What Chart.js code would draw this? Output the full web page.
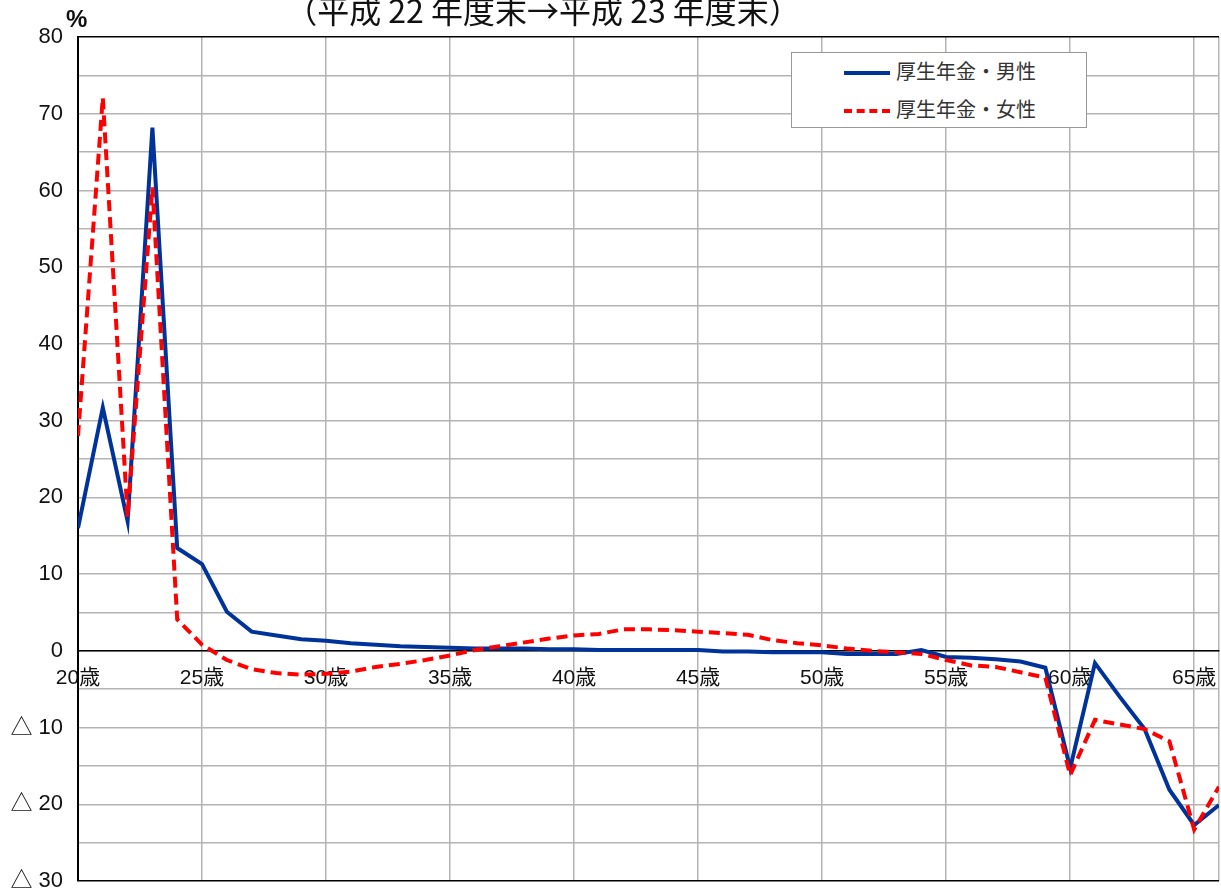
<!DOCTYPE html>
<html>
<head>
<meta charset="utf-8">
<script src="https://cdn.jsdelivr.net/npm/chart.js@4.4.1/dist/chart.umd.min.js"></script>
<style>
  body { margin: 0; background: #fff; font-family: "Liberation Sans", "Noto Sans CJK JP", sans-serif; }
  #wrap { position: relative; width: 1221px; height: 893px; overflow: hidden; }
  #title { position: absolute; left: 0; width: 1086px; top: -14px; text-align: center; font-size: 32px; color: #111;
           font-family: "Noto Sans CJK JP", sans-serif; white-space: pre; }
  #pct { position: absolute; left: 66px; top: 5px; font-size: 24px; font-weight: bold; color: #111; }
  #legend { position: absolute; left: 791px; top: 52px; width: 294px; height: 74px; background: #fff;
            border: 1px solid #999; font-family: "Noto Sans CJK JP", sans-serif; font-size: 20px; color: #333; }
  .item { position: absolute; left: 52px; height: 24px; line-height: 24px; }
  .swatch { position: absolute; left: 0; top: 10px; width: 46px; height: 0; }
  .item span { position: absolute; left: 52px; top: -2px; white-space: nowrap; }
</style>
</head>
<body>
<div id="wrap">
  <canvas id="ageChart"></canvas>
  <div id="title">（平成 22 年度末→平成 23 年度末）</div>
  <div id="pct">%</div>
  <div id="legend">
    <div class="item" style="top:8px"><div class="swatch" style="border-top:4px solid #003399"></div><span>厚生年金・男性</span></div>
    <div class="item" style="top:46px"><div class="swatch" style="border-top:4px dashed #ff0000"></div><span>厚生年金・女性</span></div>
  </div>
</div>
<script>
// 年齢
const ages = [20, 21, 22, 23, 24, 25, 26, 27, 28, 29, 30, 31, 32, 33, 34, 35, 36, 37, 38, 39, 40, 41, 42, 43,
              44, 45, 46, 47, 48, 49, 50, 51, 52, 53, 54, 55, 56, 57, 58, 59, 60, 61, 62, 63, 64, 65, 66];
// 厚生年金・男性 (%)
const male = [16.0, 31.7, 16.9, 68.2, 13.4, 11.3, 5.1, 2.5, 2.0, 1.5, 1.3, 1.0, 0.8, 0.6, 0.5, 0.4, 0.3, 0.3,
              0.3, 0.2, 0.2, 0.1, 0.1, 0.1, 0.1, 0.1, -0.1, -0.1, -0.2, -0.2, -0.2, -0.4, -0.4, -0.4, 0.1, -0.8,
              -0.9, -1.1, -1.4, -2.2, -15.3, -1.6, -6.0, -10.2, -18.1, -22.7, -20.1];
// 厚生年金・女性 (%)
const female = [28.0, 72.1, 17.5, 60.4, 4.1, 0.8, -1.2, -2.4, -2.9, -3.1, -3.0, -2.7, -2.1, -1.7, -1.2, -0.6,
                0.1, 0.6, 1.1, 1.6, 2.0, 2.2, 2.8, 2.8, 2.7, 2.5, 2.3, 2.1, 1.4, 1.0, 0.7, 0.3, 0.0, -0.2, -0.4,
                -1.2, -1.9, -2.1, -2.8, -3.5, -16.2, -9.0, -9.6, -10.2, -11.8, -23.3, -17.7];
// 目盛
const xTicks = [20, 25, 30, 35, 40, 45, 50, 55, 60, 65, 66];
const yTicks = [-30, -25, -20, -15, -10, -5, 0, 5, 10, 15, 20, 25, 30, 35, 40, 45, 50, 55, 60, 65, 70, 75, 80];

const toPoints = arr => ages.map((a, i) => ({ x: a, y: arr[i] }));
const labelFont = '"Liberation Sans Narrow", "Liberation Sans", "Noto Sans CJK JP", sans-serif';

const ctx = document.getElementById('ageChart').getContext('2d');
const ageChart = new Chart(ctx, {
  type: 'line',
  data: {
    datasets: [{
      label: '厚生年金・男性',
      data: toPoints(male),
      borderColor: '#003399',
      borderWidth: 4,
      pointRadius: 0,
      tension: 0,
      order: 1
    }, {
      label: '厚生年金・女性',
      data: toPoints(female),
      borderColor: '#ff0000',
      borderWidth: 4,
      borderDash: [11, 6],
      pointRadius: 0,
      tension: 0,
      order: 0
    }]
  },
  options: {
    responsive: true,
    maintainAspectRatio: false,
    animation: false,
    layout: { padding: { top: 37, left: 0, right: 2, bottom: 12 } },
    plugins: { legend: { display: false }, tooltip: { enabled: false } },
    scales: {
      x: {
        type: 'linear',
        position: { y: 0 },
        min: 20,
        max: 66,
        afterBuildTicks: s => { s.ticks = xTicks.map(v => ({ value: v })); },
        afterFit: s => { s.height = 0; s.paddingLeft = 0; s.paddingRight = 0; },
        ticks: {
          autoSkip: false,
          maxRotation: 0,
          padding: 15,
          color: '#111',
          font: { size: 21, family: labelFont },
          callback: v => (v % 5 === 0 ? v + '歳' : '')
        },
        grid: { color: '#b4b4b4', lineWidth: 1.5, drawTicks: false },
        border: { color: '#000', width: 1.5 }
      },
      y: {
        min: -30,
        max: 80,
        afterBuildTicks: s => { s.ticks = yTicks.map(v => ({ value: v })); },
        afterFit: s => { s.width = 78; s.paddingTop = 0; s.paddingBottom = 0; },
        ticks: {
          autoSkip: false,
          padding: 15,
          color: '#111',
          font: { size: 22, family: labelFont },
          callback: v => (v % 10 !== 0 ? '' : v < 0 ? '△ ' + (-v) : '' + v)
        },
        grid: {
          color: c => (c.tick && (c.tick.value === 80 || c.tick.value === -30) ? '#000' : '#b4b4b4'),
          lineWidth: 1.5,
          drawTicks: false
        },
        border: { color: '#000', width: 2 }
      }
    }
  }
});
</script>
</body>
</html>
